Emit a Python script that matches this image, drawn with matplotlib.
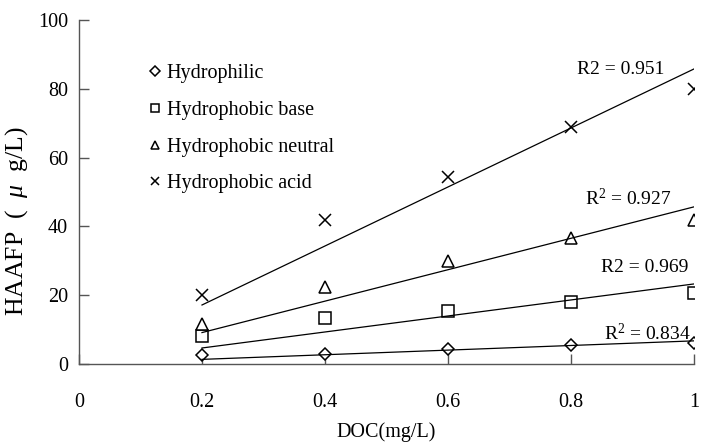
import numpy as np
import matplotlib
matplotlib.use("Agg")
import matplotlib.pyplot as plt

plt.rcParams['font.family'] = ['Liberation Serif', 'DejaVu Serif']
plt.rcParams['mathtext.fontset'] = 'custom'
plt.rcParams['mathtext.rm'] = 'Liberation Serif'
plt.rcParams['mathtext.it'] = 'Liberation Serif:italic'

doc = [0.2, 0.4, 0.6, 0.8, 1.0]
hydrophilic = [2.5, 3.0, 4.5, 5.5, 6.0]
hydrophobic_base = [8.0, 13.5, 15.5, 18.0, 20.5]
hydrophobic_neutral = [11.5, 22.5, 30.0, 36.5, 42.0]
hydrophobic_acid = [20.0, 42.0, 54.5, 69.0, 80.0]

series_names = ["Hydrophilic", "Hydrophobic base", "Hydrophobic neutral", "Hydrophobic acid"]
r2_labels = ["R$^2$ = 0.834", "R2 = 0.969", "R$^2$ = 0.927", "R2 = 0.951"]
xticks = [0, 0.2, 0.4, 0.6, 0.8, 1]
xticklabels = ["0", "0.2", "0.4", "0.6", "0.8", "1"]
yticks = [0, 20, 40, 60, 80, 100]

fig = plt.figure(figsize=(7.18, 4.43), dpi=100)
ax = fig.add_axes([79/718, 1-364/443, (694-79)/718, (364-20)/443])

markers = ['D', 's', '^', 'x']
msizes = [6.5, 8.5, 8.5, 8.5]
series = [hydrophilic, hydrophobic_base, hydrophobic_neutral, hydrophobic_acid]
label_pos = [(0.925, 9.0), (0.92, 28.0), (0.893, 48.0), (0.88, 85.5)]

x = np.array(doc)
for ys, m, ms, name, lab, pos in zip(series, markers, msizes, series_names, r2_labels, label_pos):
    y = np.array(ys)
    if m == 'x':
        ax.plot(x, y, linestyle='none', marker=m, ms=ms, mec='black', mew=1.1, label=name)
    else:
        ax.plot(x, y, linestyle='none', marker=m, ms=ms, mfc='white',
                mec='black', mew=1.1, label=name)
    slope = np.sum(x * y) / np.sum(x * x)
    ax.plot(x, slope * x, color='black', lw=0.9)
    ax.text(pos[0], pos[1], lab, fontsize=14, ha='center', va='center')

ax.set_xlim(0, 1)
ax.set_ylim(0, 100)
ax.set_xticks(xticks)
ax.set_xticklabels(xticklabels)
ax.set_yticks(yticks)
ax.spines['top'].set_visible(False)
ax.spines['right'].set_visible(False)
for s in ['left', 'bottom']:
    ax.spines[s].set_color('#555555')
    ax.spines[s].set_linewidth(1.0)
ax.tick_params(direction='in', length=7, width=1, color='#555555', labelsize=14.5)
ax.tick_params(axis='x', pad=21)
ax.tick_params(axis='y', pad=8)

ax.set_xlabel("DOC(mg/L)", fontsize=14.5, labelpad=7)
ax.set_ylabel("HAAFP  (  $\\mathit{\\mu}$  g/L)", fontsize=18.5)
ax.yaxis.set_label_coords(-0.08, 0.415)

leg = ax.legend(loc='upper left', bbox_to_anchor=(0.084, 0.925), frameon=False, fontsize=14.5,
                handlelength=0.6, handletextpad=0.3, labelspacing=0.88, markerscale=0.75)

fig.savefig("out.png", dpi=100)
